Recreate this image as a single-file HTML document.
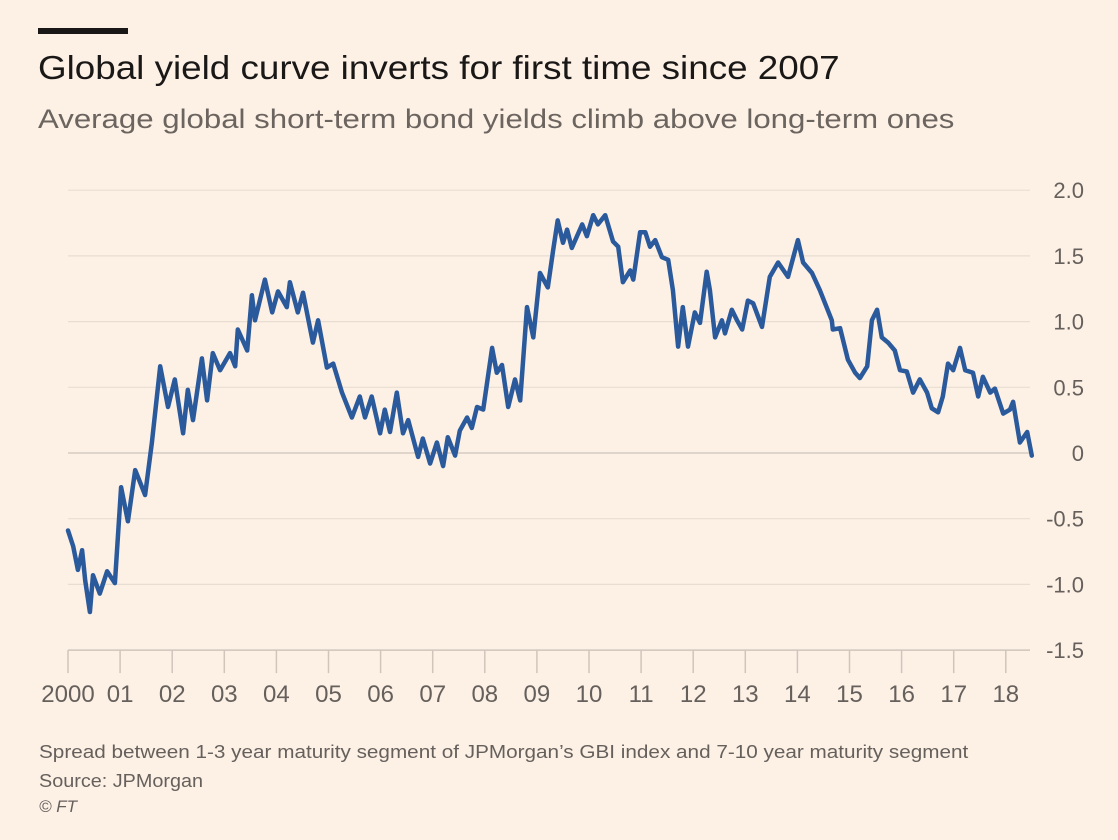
<!DOCTYPE html>
<html><head><meta charset="utf-8">
<style>
body{margin:0;background:#fdf1e6;font-family:"Liberation Sans",sans-serif;}
#wrap{position:relative;width:1118px;height:840px;overflow:hidden;background:#fdf1e6;}
.t{position:absolute;white-space:nowrap;transform-origin:0 0;}
</style></head>
<body>
<div id="wrap">
<div class="t" style="left:38px;top:28px;width:90px;height:6px;background:#1a1817"></div>
<div class="t" style="left:38px;top:49px;font-size:33px;color:#1a1817;transform:scaleX(1.115);">Global yield curve inverts for first time since 2007</div>
<div class="t" style="left:38px;top:104px;font-size:27px;color:#6b645f;transform:scaleX(1.155);">Average global short-term bond yields climb above long-term ones</div>
<svg id="chart" width="1118" height="840" style="position:absolute;left:0;top:0"></svg>
<div class="t" style="left:39px;top:742px;font-size:18px;color:#66605c;transform:scaleX(1.15);">Spread between 1-3 year maturity segment of JPMorgan’s GBI index and 7-10 year maturity segment</div>
<div class="t" style="left:39px;top:771px;font-size:18px;color:#66605c;transform:scaleX(1.1);">Source: JPMorgan</div>
<div class="t" style="left:39px;top:797px;font-size:17px;color:#66605c;font-style:italic;">© FT</div>
</div>
<script>
const yTicks=[2.0,1.5,1.0,0.5,0,-0.5,-1.0,-1.5];
const yTickLabels=["2.0","1.5","1.0","0.5","0","-0.5","-1.0","-1.5"];
const xTicks=[2000,2001,2002,2003,2004,2005,2006,2007,2008,2009,2010,2011,2012,2013,2014,2015,2016,2017,2018];
const xTickLabels=["2000","01","02","03","04","05","06","07","08","09","10","11","12","13","14","15","16","17","18"];
const dates=[2000.0,2000.10,2000.19,2000.27,2000.33,2000.42,2000.48,2000.61,2000.75,2000.90,2001.02,2001.15,2001.29,2001.48,2001.61,2001.77,2001.92,2002.05,2002.21,2002.30,2002.40,2002.57,2002.67,2002.78,2002.92,2003.11,2003.21,2003.26,2003.44,2003.53,2003.59,2003.78,2003.92,2004.03,2004.20,2004.26,2004.41,2004.51,2004.70,2004.80,2004.97,2005.09,2005.26,2005.45,2005.60,2005.70,2005.83,2005.99,2006.08,2006.18,2006.31,2006.43,2006.53,2006.72,2006.81,2006.95,2007.08,2007.20,2007.29,2007.43,2007.52,2007.66,2007.75,2007.85,2007.97,2008.14,2008.23,2008.33,2008.45,2008.58,2008.68,2008.81,2008.93,2009.06,2009.21,2009.31,
2009.40,2009.50,2009.58,2009.67,2009.87,2009.96,2010.08,2010.17,2010.31,2010.46,2010.56,2010.65,2010.79,2010.85,2010.98,2011.08,2011.17,2011.27,2011.40,2011.52,2011.61,2011.71,2011.80,2011.90,2012.03,2012.13,2012.26,2012.32,2012.42,2012.55,2012.61,2012.74,2012.84,2012.94,2013.05,2013.15,2013.32,2013.47,2013.63,2013.82,2014.01,2014.11,2014.28,2014.43,2014.66,2014.68,2014.82,2014.97,2015.11,2015.20,2015.34,2015.43,2015.53,2015.62,2015.74,2015.87,2015.97,2016.10,2016.22,2016.35,2016.49,2016.58,2016.70,2016.79,2016.89,2016.99,2017.12,2017.22,2017.37,2017.47,2017.56,2017.70,2017.79,2017.95,2018.08,2018.14,2018.27,2018.41,2018.50];
const values=[-0.59,-0.71,-0.89,-0.74,-0.97,-1.21,-0.93,-1.07,-0.9,-0.99,-0.26,-0.52,-0.13,-0.32,0.08,0.66,0.35,0.56,0.15,0.48,0.25,0.72,0.40,0.76,0.63,0.76,0.66,0.94,0.78,1.2,1.01,1.32,1.07,1.23,1.11,1.30,1.07,1.22,0.84,1.01,0.65,0.68,0.46,0.27,0.43,0.27,0.43,0.15,0.33,0.16,0.46,0.15,0.25,-0.03,0.11,-0.08,0.08,-0.1,0.12,-0.02,0.17,0.27,0.19,0.35,0.33,0.80,0.61,0.67,0.35,0.56,0.40,1.11,0.88,1.37,1.26,1.54,
1.77,1.6,1.7,1.56,1.74,1.65,1.81,1.74,1.81,1.61,1.57,1.30,1.39,1.32,1.68,1.68,1.57,1.62,1.49,1.47,1.24,0.81,1.11,0.81,1.07,0.99,1.38,1.24,0.88,1.01,0.91,1.09,1.01,0.94,1.16,1.14,0.96,1.34,1.45,1.34,1.62,1.45,1.37,1.24,1.01,0.94,0.95,0.71,0.61,0.57,0.66,1.01,1.09,0.88,0.84,0.78,0.63,0.62,0.46,0.56,0.46,0.34,0.31,0.43,0.68,0.63,0.80,0.63,0.61,0.43,0.58,0.46,0.49,0.30,0.33,0.39,0.08,0.16,-0.02];

const svg=document.getElementById('chart');
const NS='http://www.w3.org/2000/svg';
const xL=68,xPer=52.1,y0=453,yPer=131.4,xR=1030;
function xs(d){return xL+(d-2000)*xPer;}
function ys(v){return y0-v*yPer;}
function mk(tag,attrs){const e=document.createElementNS(NS,tag);for(const k in attrs)e.setAttribute(k,attrs[k]);svg.appendChild(e);return e;}

yTicks.forEach((v,i)=>{
  if(i<yTicks.length-1){
    const g=mk('line',{x1:xL,x2:xR,y1:ys(v),y2:ys(v),stroke:v===0?'#d6ccc2':'#e8ddd2','stroke-width':v===0?1.5:1.2});
    
    
  }
  const t=mk('text',{x:1084,y:ys(v)+8,'text-anchor':'end','font-size':22,fill:'#66605c','font-family':'Liberation Sans, sans-serif'});
  t.textContent=yTickLabels[i];
  
  
});
const ax=mk('line',{x1:xL,x2:xR,y1:ys(-1.5),y2:ys(-1.5),stroke:'#cfc5bb','stroke-width':1.5});


xTicks.forEach((d,i)=>{
  const tk=mk('line',{x1:xs(d),x2:xs(d),y1:ys(-1.5),y2:ys(-1.5)+23,stroke:'#cfc5bb','stroke-width':1.5});
  
  
  const t=mk('text',{x:xs(d),y:702,'text-anchor':'middle','font-size':24,fill:'#66605c','font-family':'Liberation Sans, sans-serif'});
  t.textContent=xTickLabels[i];
  
  
});
let dstr='';
const n=Math.min(dates.length,values.length);
for(let i=0;i<n;i++){dstr+=(i?'L':'M')+xs(dates[i]).toFixed(1)+','+ys(values[i]).toFixed(1);}
const p=mk('path',{d:dstr,fill:'none',stroke:'#2b5a9c','stroke-width':4.5,'stroke-linejoin':'round','stroke-linecap':'round'});


</script>
</body></html>
